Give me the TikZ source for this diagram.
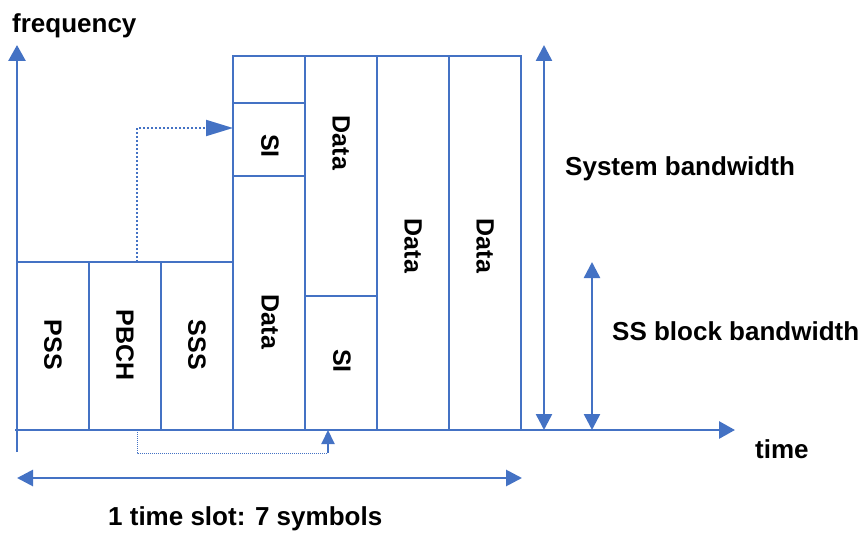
\documentclass[tikz,border=0pt]{standalone}
\usepackage{fontspec}
\setmainfont{Liberation Sans}
\usetikzlibrary{arrows.meta}
\definecolor{ax}{HTML}{4472C4}
\begin{document}
\begin{tikzpicture}[x=1pt,y=-1pt,
  cell/.style={draw=ax, line width=2pt, inner sep=0pt, outer sep=0pt},
  lbl/.style={font=\fontsize{25}{30}\selectfont\bfseries, rotate=-90, inner sep=0pt},
  txt/.style={font=\fontsize{26}{30}\selectfont\bfseries, inner sep=0pt, anchor=base west},
  axisline/.style={draw=ax, line width=2.8pt},
  bigtip/.style={-{Triangle[length=16pt,width=17pt]}},
  dbltip/.style={{Triangle[length=16pt,width=16pt]}-{Triangle[length=16pt,width=16pt]}}
]
\useasboundingbox (0,0) rectangle (864,540);

% cells
\node[cell, minimum width=72pt, minimum height=168pt] (pss)  at (53,346) {};
\node[cell, minimum width=72pt, minimum height=168pt] (pbch) at (125,346) {};
\node[cell, minimum width=72pt, minimum height=168pt] (sss)  at (197,346) {};
\node[cell, minimum width=72pt, minimum height=47pt]  (ctop) at (269,79.5) {};
\node[cell, minimum width=72pt, minimum height=73pt]  (si1)  at (269,139.5) {};
\node[cell, minimum width=72pt, minimum height=254pt] (dat1) at (269,303) {};
\node[cell, minimum width=72pt, minimum height=240pt] (dat2) at (341,176) {};
\node[cell, minimum width=72pt, minimum height=134pt] (si2)  at (341,363) {};
\node[cell, minimum width=72pt, minimum height=374pt] (dat3) at (413,243) {};
\node[cell, minimum width=72pt, minimum height=374pt] (dat4) at (485,243) {};

% labels
\node[lbl] (lpss)  at (53,345) {PSS};
\node[lbl] (lpbch) at (125,345) {PBCH};
\node[lbl] (lsss)  at (197,345) {SSS};
\node[lbl] (lsi1)  at (270,146) {SI};
\node[lbl] (ldat1) at (270,322) {Data};
\node[lbl] (ldat2) at (341,143) {Data};
\node[lbl] (lsi2)  at (342,361) {SI};
\node[lbl] (ldat3) at (413,246) {Data};
\node[lbl] (ldat4) at (485,246) {Data};

% axes
\coordinate (fbot) at (17,452);
\coordinate (ftop) at (17,45);
\coordinate (tbeg) at (15,430);
\coordinate (tend) at (735,430);
\draw[axisline, bigtip] (fbot) -- (ftop);
\draw[axisline, bigtip] (tbeg) -- (tend);

% bandwidth arrows
\coordinate (sbt) at (544,45);
\coordinate (sbb) at (544,430);
\coordinate (ssbt) at (592,262);
\coordinate (ssbb) at (592,430);
\draw[ax, line width=2.5pt, dbltip] (sbb) -- (sbt);
\draw[ax, line width=2.5pt, dbltip] (ssbb) -- (ssbt);

% slot arrow
\coordinate (sl) at (17,478);
\coordinate (sr) at (522,478);
\draw[ax, line width=2.8pt, dbltip] (sl) -- (sr);

% dotted arrow PBCH -> SI
\coordinate (d1s) at ([xshift=12pt]pbch.north);
\coordinate (d1e) at (233,128);
\draw[ax, line width=2pt, dash pattern=on 2pt off 2pt, -{Triangle[length=27pt,width=16pt]}] (d1s) |- (d1e);

% dotted path under the axis
\coordinate (d2a) at (137,430);
\coordinate (d2b) at (328,453);
\coordinate (d2c) at (328,430);
\draw[ax, line width=1pt, dash pattern=on 1pt off 1pt] (d2a) |- (d2b);
\draw[ax, line width=2pt, -{Triangle[length=14pt,width=13pt]}] (d2b) -- (d2c);

% texts
\node[txt] (tfreq) at (12,33) {frequency};
\node[txt] (tsys)  at (565,176) {System bandwidth};
\node[txt] (tss)   at (612,340) {SS block bandwidth};
\node[txt] (ttime) at (755,458) {time};
\node[txt] (tslot) at (108,525) {1 time slot: 7 symbols};
\end{tikzpicture}
\end{document}
